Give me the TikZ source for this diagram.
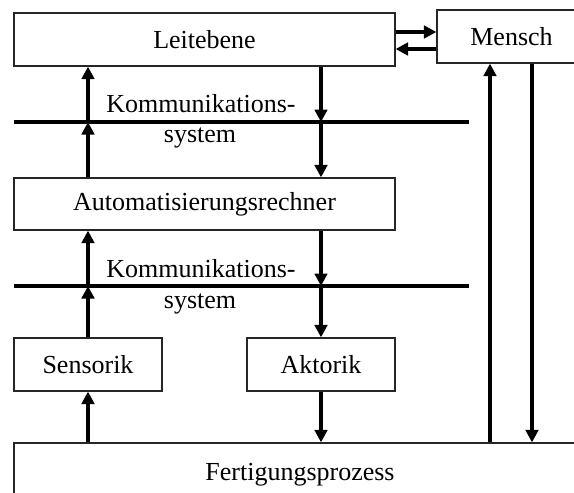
\documentclass[tikz,border=0pt]{standalone}
\usepackage{fontspec}
\setmainfont{Liberation Serif}
\usetikzlibrary{arrows.meta}
\begin{document}
\begin{tikzpicture}[x=1pt,y=-1pt,
  box/.style={draw=black!85,line width=1.2pt,rectangle,inner sep=0pt,
              font=\fontsize{26}{30}\selectfont},
  arr/.style={line width=3.2pt,-{Triangle[length=12.5pt,width=12.5pt]}},
  bus/.style={line width=3.4pt},
  lbl/.style={font=\fontsize{26}{30}\selectfont,anchor=base,inner sep=0pt}]
\useasboundingbox (0,0) rectangle (574,493);
\clip (0,0) rectangle (574,493);

% blocks
\node[box,minimum width=381pt,minimum height=53pt] (leit) at (204.5,39.5) {Leitebene};
\node[box,minimum width=149pt,minimum height=53pt] (mensch) at (511.5,36.5) {Mensch};
\node[box,minimum width=381pt,minimum height=52pt] (auto) at (204.5,204) {Automatisierungsrechner};
\node[box,minimum width=148pt,minimum height=53pt] (sens) at (88,364.5) {Sensorik};
\node[box,minimum width=148pt,minimum height=53pt] (akt) at (321,364.5) {Aktorik};
\node[box,minimum width=572pt,minimum height=64pt] (proc) at (300,475) {Fertigungsprozess};

% communication buses
\coordinate (b1l) at (14,122);
\coordinate (b1r) at (469,122);
\coordinate (b2l) at (14,286);
\coordinate (b2r) at (469,286);
\draw[bus] (b1l) -- (b1r);
\draw[bus] (b2l) -- (b2r);
\node[lbl] (k1a) at (201,112) {Kommunikations-};
\node[lbl] (k1b) at (200,142) {system};
\node[lbl] (k2a) at (201,277) {Kommunikations-};
\node[lbl] (k2b) at (200,308) {system};

% signal columns
\coordinate (cL) at (88,0);
\coordinate (cR) at (321,0);
\coordinate (mU) at (490,0);
\coordinate (mD) at (532,0);

% upward path: process -> sensors -> bus -> computer -> bus -> control level
\draw[arr] (proc.north -| cL) -- (sens.south);
\draw[arr] (sens.north) -- (b2l -| cL);
\draw[arr] (b2l -| cL) -- (auto.south -| cL);
\draw[arr] (auto.north -| cL) -- (b1l -| cL);
\draw[arr] (b1l -| cL) -- (leit.south -| cL);

% downward path: control level -> bus -> computer -> bus -> actuators -> process
\draw[arr] (leit.south -| cR) -- (b1l -| cR);
\draw[arr] (b1l -| cR) -- (auto.north -| cR);
\draw[arr] (auto.south -| cR) -- (b2l -| cR);
\draw[arr] (b2l -| cR) -- (akt.north);
\draw[arr] (akt.south) -- (proc.north -| cR);

% human operator
\draw[arr] ([yshift=7.5pt]leit.east) -- ([yshift=7.5pt]leit.east -| mensch.west);
\draw[arr] ([yshift=-9.5pt]leit.east -| mensch.west) -- ([yshift=-9.5pt]leit.east);
\draw[arr] (proc.north -| mU) -- (mensch.south -| mU);
\draw[arr] (mensch.south -| mD) -- (proc.north -| mD);
\end{tikzpicture}
\end{document}
